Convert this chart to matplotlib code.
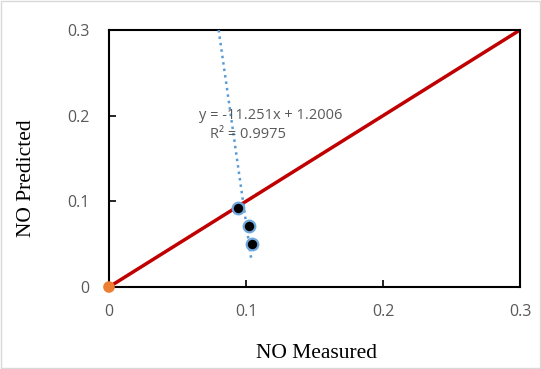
import numpy as np
import matplotlib.pyplot as plt
from matplotlib.patches import Rectangle

# measured vs predicted NO
measured = [0.0942, 0.1022, 0.1044]
predicted = [0.0922, 0.0712, 0.0502]
origin_x = [0.0]
origin_y = [0.0]
parity = [0.0, 0.3]
slope, intercept = -11.251, 1.2006
trend_y = [0.3, 0.03]
ticks = [0, 0.1, 0.2, 0.3]
tick_labels = ["0", "0.1", "0.2", "0.3"]

fig = plt.figure(figsize=(5.41, 3.69), dpi=100)
ax = fig.add_axes([109 / 541, 1 - 287 / 369, 411 / 541, 257 / 369])

# y = x line
ax.plot(parity, parity, color="#C00000", lw=2.5, zorder=2, solid_capstyle="butt")

# linear trendline through the points
ty = np.array(trend_y)
tx = (ty - intercept) / slope
ax.plot(tx, ty, color="#5B9BD5", lw=1.8, ls=(0, (1, 1.6)), zorder=3)

ax.scatter(measured, predicted, s=70, c="black", edgecolors="#6FA8DC", linewidths=1.6, zorder=4)
ax.scatter(origin_x, origin_y, s=70, c="#ED7D31", edgecolors="none", zorder=5, clip_on=False)

ax.text(0.0655, 0.2, "y = -11.251x + 1.2006", fontsize=10.5, color="#595959",
        family="Open Sans", ha="left", va="center")
ax.text(0.0735, 0.178, "R² = 0.9975", fontsize=10.5, color="#595959",
        family="Open Sans", ha="left", va="center")

ax.set_xlim(0, 0.3)
ax.set_ylim(0, 0.3)
ax.set_xticks(ticks)
ax.set_xticklabels(tick_labels)
ax.set_yticks(ticks)
ax.set_yticklabels(tick_labels)
ax.tick_params(direction="in", length=5, width=1.2, colors="black", labelcolor="#595959",
               labelsize=11.5, pad=12)
for lab in ax.get_xticklabels() + ax.get_yticklabels():
    lab.set_family("Open Sans")
ax.tick_params(axis="y", pad=14)
for sp in ax.spines.values():
    sp.set_linewidth(1.5)
    sp.set_color("black")

fig.text(316 / 541, 1 - 353 / 369, "NO Measured", family="Liberation Serif", fontsize=15.5,
         ha="center", va="center")
fig.text(27 / 541, 1 - 178 / 369, "NO Predicted", family="Liberation Serif", fontsize=15.5,
         ha="center", va="center", rotation=90)

fig.patches.append(Rectangle((0.002, 0.003), 0.996, 0.994, transform=fig.transFigure,
                             fill=False, edgecolor="#D9D9D9", lw=1))

fig.savefig("out.png", dpi=100)
